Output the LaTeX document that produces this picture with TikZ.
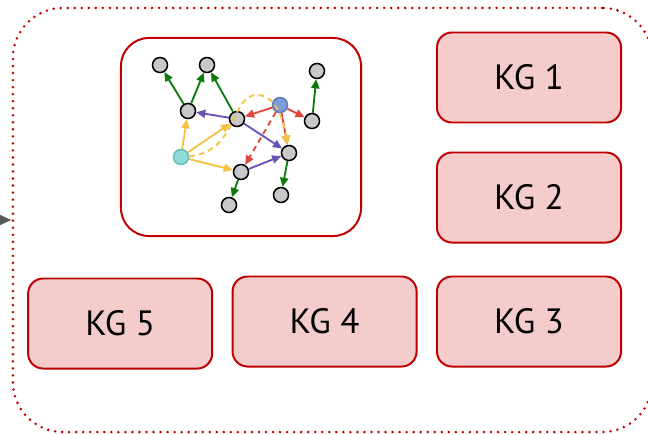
\documentclass[tikz,border=0pt]{standalone}
\usepackage{fontspec}
\setmainfont{PT Sans}
\usepackage{tikz}
\usetikzlibrary{positioning}
\usetikzlibrary{arrows.meta}
\definecolor{kgred}{HTML}{C00000}
\definecolor{kgfill}{HTML}{F4CCCC}
\definecolor{egreen}{HTML}{0B7A0B}
\definecolor{epurple}{HTML}{6A4FB5}
\definecolor{ered}{HTML}{E0463A}
\definecolor{eyellow}{HTML}{F5C242}
\definecolor{vgray}{HTML}{C8C8C8}
\definecolor{vblue}{HTML}{7D9CDC}
\definecolor{vcyan}{HTML}{8EDCD8}
\definecolor{ingray}{HTML}{595959}

\begin{document}
\begin{tikzpicture}[
            x = 0.025cm, y = -0.025cm, % pixel grid, y pointing down
            > = {Triangle[length=6.5pt, width=5.8pt]}, % arrow head style
            line width = 1.3pt, % edge style
            node distance = 0.7cm % gap between the kg boxes
        ]

        \tikzstyle{kg}=[
            draw = kgred,
            fill = kgfill,
            line width = 1.4pt,
            rounded corners = 0.375cm,
            minimum width = 4.6cm,
            minimum height = 2.25cm,
            font = \fontsize{25}{30}\selectfont
        ]
        \tikzstyle{vertex}=[
            circle,
            draw = black,
            fill = vgray,
            line width = 1.1pt,
            minimum size = 0.375cm,
            inner sep = 0pt
        ]

        \useasboundingbox (0,0) rectangle (648,434);

        % pool of graphs
        \node[draw = kgred, dash pattern = on 0pt off 5pt, line cap = round,
              line width = 2pt, rounded corners = 1.25cm,
              minimum width = 15.975cm, minimum height = 10.6cm] (pool) at (332.5,220) {};

        \coordinate (src) at (-30,220);
        \draw[-{Triangle[length=8.5pt, width=7pt]}, ingray, line width = 2pt] (src) -- (pool.west);

        % sample graph
        \node[draw = kgred, fill = white, line width = 1.4pt, rounded corners = 0.7cm,
              minimum width = 6cm, minimum height = 4.95cm] (sample) at (241,137) {};

        \node[vertex] (A) at (160,65) {};
        \node[vertex] (B) at (207,65) {};
        \node[vertex] (C) at (317,71) {};
        \node[vertex] (D) at (188,111) {};
        \node[vertex] (E) at (237,119) {};
        \node[vertex, draw = vblue!80!black, fill = vblue] (F) at (280,105) {};
        \node[vertex] (G) at (312,121) {};
        \node[vertex, draw = vcyan!70!teal, fill = vcyan] (H) at (181,157) {};
        \node[vertex] (I) at (289,153) {};
        \node[vertex] (J) at (241,172) {};
        \node[vertex] (K) at (281,195) {};
        \node[vertex] (L) at (229,205) {};

        % green edges
        \draw[->, egreen] (D) -- (A);
        \draw[->, egreen] (D) -- (B);
        \draw[->, egreen] (E) -- (B);
        \draw[->, egreen] (G) -- (C);
        \draw[->, egreen] (I) -- (K);
        \draw[->, egreen] (J) -- (L);

        % purple edges
        \draw[->, epurple] (E) -- (D);
        \draw[->, epurple] (E) -- (I);
        \draw[->, epurple] (J) -- (I);

        % red edges
        \draw[->, ered] (F) -- (E);
        \draw[->, ered] (F) -- (G);
        \draw[->, ered] (F) -- (I);
        \draw[->, ered, dash pattern = on 4pt off 3pt] (F) -- (J);

        % yellow edges
        \draw[->, eyellow] (H) -- (D);
        \draw[->, eyellow] (H) -- (E);
        \draw[->, eyellow] (H) -- (J);
        \draw[->, eyellow, dash pattern = on 4pt off 3pt]
            (H) .. controls (238,152) and (230,95) .. (257,95)
                .. controls (278,95) and (284,125) .. (I);

        % knowledge graphs
        \node[kg] (KG1) at (529,77.5) {KG 1};
        \node[kg, below = of KG1] (KG2) {KG 2};
        \node[kg, below = 0.8cm of KG2] (KG3) {KG 3};
        \node[kg, left = 0.46cm of KG3] (KG4) {KG 4};
        \node[kg, left = 0.46cm of KG4, yshift = -0.05cm] (KG5) {KG 5};

\end{tikzpicture}
\end{document}
